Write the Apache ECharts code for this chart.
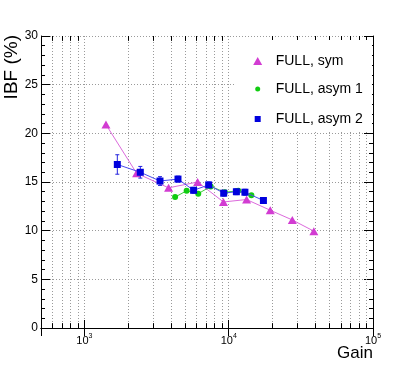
<!DOCTYPE html>
<html>
<head>
<meta charset="utf-8">
<script src="https://cdn.jsdelivr.net/npm/echarts@6/dist/echarts.min.js"></script>
<style>html,body{margin:0;padding:0;background:#fff;}#c{width:415px;height:365px;}</style>
</head>
<body>
<div id="c"></div>
<script>
var symGain = [1410, 2300, 3830, 6090, 9190, 13300, 19400, 27600, 38900];
var symIBF = [20.9, 15.9, 14.4, 15.0, 12.95, 13.2, 12.1, 11.1, 9.95];
var asym1Gain = [4250, 5110, 6150, 7500, 9400, 11650, 14350];
var asym1IBF = [13.45, 14.1, 13.8, 14.55, 13.95, 14.1, 13.65];
var asym2Gain = [1690, 2440, 3340, 4450, 5710, 7260, 9230, 11300, 12950, 17400];
var asym2IBF = [16.8, 16.0, 15.1, 15.3, 14.15, 14.7, 13.85, 14.0, 13.95, 13.1];
var asym2Err = [1.0, 0.6, 0.45, 0.3, 0.3, 0.3, 0.3, 0.3, 0.3, 0.3];
var seriesNames = ['FULL, sym', 'FULL, asym 1', 'FULL, asym 2'];
var minorGain = [600, 700, 800, 900, 2000, 3000, 4000, 5000, 6000, 7000, 8000, 9000,
                 20000, 30000, 40000, 50000, 60000, 70000, 80000, 90000];
var xMin = 500, xMax = 100000, yMin = 0, yMax = 30, yStep = 5;

function pairs(xs, ys) { return xs.map(function (x, i) { return [x, ys[i]]; }); }

var FONT = 'Liberation Sans, Arial, Helvetica, sans-serif';
var gridColor = '#9a9a9a';

var markData = [];
minorGain.forEach(function (v) {
  markData.push({ xAxis: v, lineStyle: { color: gridColor, type: [1, 2], width: 1 } });
  markData.push([{ coord: [v, yMin] }, { coord: [v, yMin + 0.5] }]);
  markData.push([{ coord: [v, yMax] }, { coord: [v, yMax - 0.5] }]);
});

function legendItem(name, icon, w, h, top) {
  var cx = 252.7;
  return {
    data: [{ name: name, icon: icon }], left: cx - w / 2, top: top,
    itemWidth: w, itemHeight: h, symbolKeepAspect: false,
    textStyle: { fontSize: 14, fontFamily: FONT, color: '#000', padding: [0, 0, 0, 270.7 - (cx + w / 2 + 5)] },
    z: 6
  };
}

var chart = echarts.init(document.getElementById('c'), null, { renderer: 'canvas' });
chart.setOption({
  animation: false,
  backgroundColor: '#fff',
  grid: { left: 41, right: 42, top: 36, bottom: 37 },
  xAxis: [{
    type: 'log', logBase: 10, min: xMin, max: xMax, position: 'bottom',
    axisLine: { lineStyle: { color: '#000', width: 1 } },
    axisTick: { inside: true, length: 8, lineStyle: { color: '#000' } },
    splitLine: { show: true, lineStyle: { color: gridColor, type: [1, 2], width: 1 } },
    axisLabel: {
      margin: 5, color: '#000',
      formatter: function (v) {
        var e = Math.log10(v);
        if (Math.abs(e - Math.round(e)) > 1e-6) return '';
        return '{b|10}{s|' + Math.round(e) + '}';
      },
      rich: {
        b: { fontSize: 11, fontFamily: FONT, color: '#000', verticalAlign: 'bottom' },
        s: { fontSize: 7, fontFamily: FONT, color: '#000', verticalAlign: 'bottom', padding: [0, 0, 6, 0] }
      }
    }
  }, {
    type: 'log', logBase: 10, min: xMin, max: xMax, position: 'top',
    axisLine: { lineStyle: { color: '#000', width: 1 } },
    axisTick: { inside: true, length: 8, lineStyle: { color: '#000' } },
    axisLabel: { show: false }, splitLine: { show: false }
  }],
  yAxis: [{
    type: 'value', min: yMin, max: yMax, interval: yStep, position: 'left',
    axisLine: { show: true, lineStyle: { color: '#000', width: 1 } },
    axisTick: { show: true, inside: true, length: 9, lineStyle: { color: '#000' } },
    minorTick: { show: true, splitNumber: 5, length: 4, lineStyle: { color: '#000' } },
    splitLine: { show: true, lineStyle: { color: gridColor, type: [1, 2], width: 1 } },
    axisLabel: { margin: 3, fontSize: 12, fontFamily: FONT, color: '#000' }
  }, {
    type: 'value', min: yMin, max: yMax, interval: yStep, position: 'right',
    axisLine: { show: true, lineStyle: { color: '#000', width: 1 } },
    axisTick: { show: true, inside: true, length: 9, lineStyle: { color: '#000' } },
    minorTick: { show: true, splitNumber: 5, length: 4, lineStyle: { color: '#000' } },
    splitLine: { show: false }, axisLabel: { show: false }
  }],
  legend: [
    legendItem(seriesNames[0], 'triangle', 9, 8, 49),
    legendItem(seriesNames[1], 'circle', 5, 5, 77),
    legendItem(seriesNames[2], 'rect', 6, 6, 107)
  ],
  graphic: [
    { type: 'rect', z: 3, shape: { x: 236, y: 40, width: 136, height: 90 }, style: { fill: '#fff' } },
    { type: 'text', z: 3, x: 12, y: 35, rotation: Math.PI / 2,
      style: { text: 'IBF (%)', font: '19px ' + FONT, fill: '#000', align: 'right', verticalAlign: 'middle' } },
    { type: 'text', z: 3, x: 373, y: 353,
      style: { text: 'Gain', font: '17px ' + FONT, fill: '#000', align: 'right', verticalAlign: 'middle' } }
  ],
  series: [
    {
      name: seriesNames[0], type: 'line', data: pairs(symGain, symIBF),
      symbol: 'triangle', symbolSize: [9, 8], z: 3,
      itemStyle: { color: '#d23cd2' }, lineStyle: { color: '#dc6adc', width: 1 },
      markLine: {
        silent: true, symbol: 'none', label: { show: false },
        lineStyle: { color: '#000', type: 'solid', width: 1 },
        data: markData, z: 1
      }
    },
    {
      name: seriesNames[1], type: 'line', data: pairs(asym1Gain, asym1IBF),
      symbol: 'circle', symbolSize: 6, z: 4,
      itemStyle: { color: '#11cc11' }, lineStyle: { color: '#3ccf3c', width: 1 }
    },
    {
      name: seriesNames[2], type: 'custom', z: 4,
      data: asym2Gain.map(function (g, i) { return [g, asym2IBF[i], asym2Err[i]]; }),
      renderItem: function (params, api) {
        var x = api.value(0), y = api.value(1), e = api.value(2);
        var top = api.coord([x, y + e]), bot = api.coord([x, y - e]);
        return {
          type: 'group', children: [
            { type: 'line', shape: { x1: top[0], y1: top[1], x2: bot[0], y2: bot[1] }, style: { stroke: '#2222dd', lineWidth: 1 } },
            { type: 'line', shape: { x1: top[0] - 2, y1: top[1], x2: top[0] + 2, y2: top[1] }, style: { stroke: '#2222dd', lineWidth: 1 } },
            { type: 'line', shape: { x1: bot[0] - 2, y1: bot[1], x2: bot[0] + 2, y2: bot[1] }, style: { stroke: '#2222dd', lineWidth: 1 } }
          ]
        };
      },
      itemStyle: { color: '#0000dd' }
    },
    {
      name: seriesNames[2], type: 'line', data: pairs(asym2Gain, asym2IBF),
      symbol: 'rect', symbolSize: 7, z: 5,
      itemStyle: { color: '#0000dd' }, lineStyle: { color: '#4a4aee', width: 1 }
    }
  ]
});
</script>
</body>
</html>
